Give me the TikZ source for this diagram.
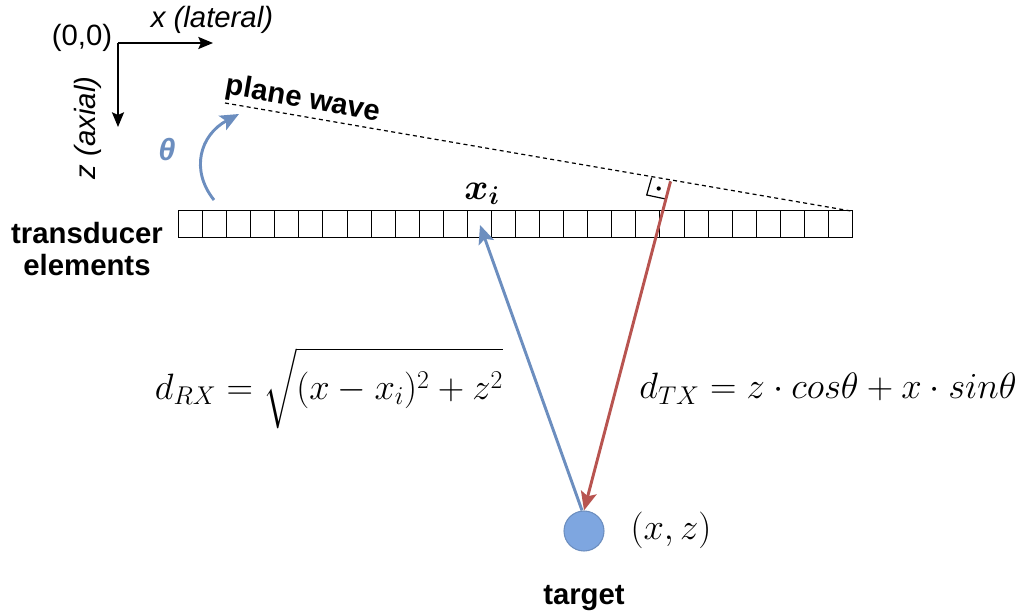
\documentclass[tikz,border=0pt]{standalone}
\usepackage{fix-cm}
\usepackage{amsmath}
\usepackage{fontspec}
\setmainfont{Liberation Sans}
\usetikzlibrary{arrows.meta}
\definecolor{bluel}{HTML}{6C8EBF}
\definecolor{redl}{HTML}{B85450}
\definecolor{bluef}{HTML}{7EA6E0}
\tikzset{
  lbl/.style={font=\fontsize{22}{26}\selectfont, inner sep=0pt},
  blbl/.style={font=\fontsize{22}{26}\selectfont\bfseries, inner sep=0pt, align=center},
  mth/.style={font=\fontsize{27.5}{32}\selectfont, inner sep=0pt},
  cell/.style={minimum width=18.0525pt, minimum height=19.5pt, inner sep=0pt, anchor=west},
  axis/.style={draw=black, line width=1.5pt, -{Stealth[length=11pt,width=9pt,inset=2pt]}},
  ray/.style={line width=2.2pt, -{Stealth[length=14pt,width=12pt,inset=3pt]}},
}
\begin{document}
\begin{tikzpicture}[x=0.75pt,y=-0.75pt]
\useasboundingbox (0,0) rectangle (1016,613);
% axes
\coordinate (o) at (118,43);
\coordinate (xe) at (213,43);
\coordinate (ze) at (118,127);
\draw[axis] (o) -- (xe);
\draw[axis] (o) -- (ze);
\node[lbl] (orig) at (82,38) {(0,0)};
\node[lbl,font=\fontsize{22}{26}\selectfont\itshape] (xl) at (212,20) {x (lateral)};
\node[lbl,font=\fontsize{22}{26}\selectfont\itshape,rotate=90] (zl) at (88,128) {z (axial)};
% transducer array
\foreach \i in {0,...,27} {
  \node[cell] (e\i) at ({178+24.07*\i},224) {};
}
\draw[line width=0.75pt] (e0.north west) rectangle (e27.south east);
\foreach \i in {0,...,26} {
  \draw[line width=0.75pt] (e\i.north east) -- (e\i.south east);
}
\node[blbl] (td) at (87,249) {transducer\\[-2pt]elements};
\node[mth] (xi) at (482,194) {$\boldsymbol{x_i}$};
% plane wave
\coordinate (pw0) at (225,103);
\coordinate (pw1) at (851,211);
\draw[dashed, line width=0.9pt, dash pattern=on 3pt off 2.5pt] (pw0) -- (pw1);
\node[blbl, rotate=-10] (pwl) at (303,100) {plane wave};
% right angle marker
\coordinate (ra) at (670.5,181.5);
\draw[line width=0.9pt] (651.7,177.5) -- (646.7,195) -- (665.7,199) -- (670.5,181.5);
\fill (658.7,188.5) circle (1.6pt);
% theta arrow
\coordinate (th0) at (214,200);
\coordinate (th1) at (239,114);
\draw[bluel, line width=2.2pt, -{Stealth[length=14pt,width=12pt,inset=3pt]}] (th0) .. controls (190,170) and (200,135) .. (th1);
\node[text=bluel, font=\fontsize{23}{26}\selectfont\bfseries\itshape, inner sep=0pt] (thl) at (167,150) {θ};
% target
\node[circle, fill=bluef, draw=bluel, line width=0.8pt, minimum size=30pt, inner sep=0pt] (tg) at (584,531) {};
\node[mth] (tgxz) at (671,530) {$(x,z)$};
\node[blbl] (tgl) at (584,598) {target};
% rays
\coordinate (rxend) at (480,225);
\draw[ray, redl] (ra) -- (tg.north);
\draw[ray, bluel] ([xshift=-1.5pt]tg.north) -- (rxend);
% formulas
\node[mth] (drx) at (329,388) {$d_{RX} = \sqrt{\vphantom{\Big(}(x-x_i)^2 + z^2}$};
\node[mth] (dtx) at (828,389) {$d_{TX} = z \cdot cos\theta + x \cdot sin\theta$};
\end{tikzpicture}
\end{document}
